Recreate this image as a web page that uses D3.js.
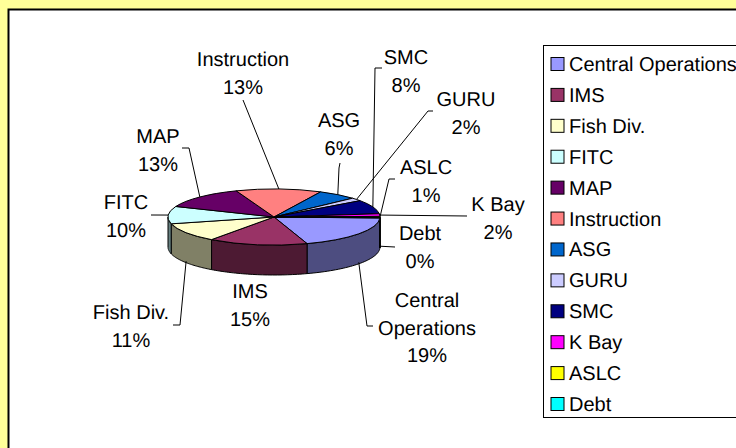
<!DOCTYPE html>
<html>
<head>
<meta charset="utf-8">
<script src="https://cdn.jsdelivr.net/npm/d3@7"></script>
<style>
  html, body { margin: 0; padding: 0; background: #ffff99; overflow: hidden; }
  text { font-family: "Liberation Sans", Arial, sans-serif; font-size: 20px; fill: #000; text-rendering: geometricPrecision; }
</style>
</head>
<body>
<div id="chart"></div>
<script>
// Chart data
var categories = ['Central Operations', 'IMS', 'Fish Div.', 'FITC', 'MAP', 'Instruction', 'ASG', 'GURU', 'SMC', 'K Bay', 'ASLC', 'Debt']
var shares = [19.3, 15, 11, 10, 13, 13, 6, 1.8, 8, 1.5, 0.6, 0.3]

// Slice colours, top face and shaded side
var topColors = ['#9999ff', '#993366', '#ffffcc', '#ccffff', '#660066', '#ff8080', '#0066cc', '#ccccff', '#000080', '#ff00ff', '#ffff00', '#00ffff']
var sideColors = ['#4d4d80', '#4d1a33', '#808066', '#668080', '#330033', '#804040', '#003366', '#666680', '#000040', '#800080', '#808000', '#008080']

// Label placement: text lines, centre x, first baseline, leader elbow points
var labelLines = [['Central', 'Operations'], ['IMS'], ['Fish Div.'], ['FITC'], ['MAP'], ['Instruction'], ['ASG'], ['GURU'], ['SMC'], ['K Bay'], ['ASLC'], ['Debt']]
var labelX = [427, 250, 131, 126, 158, 243, 339, 466, 406, 498, 426, 420]
var labelY = [307, 298, 319, 209, 143, 66, 127, 106, 64, 211, 174, 240]
var leaderPoints = [
  [[373, 326], [367, 326]],
  [],
  [[173, 325], [180, 325]],
  [[151, 215]],
  [[182, 148], [189, 148]],
  [[243, 100]],
  [[340, 163], [339, 168]],
  [[433, 111], [428, 111]],
  [[382, 68], [375, 68]],
  [[467, 216]],
  [[395, 179], [389, 179]],
  [[395, 247]]
]

var width = 736
var height = 448

// Pie geometry
var cx = 274
var cy = 217
var rx = 106
var ry = 28
var depth = 30
var startAngle = Math.PI / 2 + 2 * Math.PI / 180

var svg = d3.select('#chart')
  .append('svg')
  .attr('width', width)
  .attr('height', height)
  .style('display', 'block')

// Chart area
svg.append('rect')
  .attr('x', 8.5)
  .attr('y', 9.5)
  .attr('width', width + 20)
  .attr('height', height + 20)
  .attr('fill', '#fff')
  .attr('stroke', '#000')
  .attr('stroke-width', 2)

svg.append('line')
  .attr('x1', 9.5)
  .attr('x2', 9.5)
  .attr('y1', 11)
  .attr('y2', height)
  .attr('stroke', '#808080')

var total = d3.sum(shares)
var percent = d3.format('.0%')

var slices = d3.pie()
  .sort(null)
  .startAngle(startAngle)
  .endAngle(startAngle + 2 * Math.PI)(shares)

// d3 angles run clockwise from 12 o'clock
function rimPoint(a, drop) {
  return [cx + rx * Math.sin(a), cy - ry * Math.cos(a) + drop]
}

// Side wall of one slice, only the part that faces the viewer
function wallPath(d) {
  var from = d.startAngle
  var to = d.endAngle
  var parts = []
  ;[[Math.PI / 2, 3 * Math.PI / 2], [5 * Math.PI / 2, 7 * Math.PI / 2]].forEach(function (range) {
    var a0 = Math.max(from, range[0])
    var a1 = Math.min(to, range[1])
    if (a1 <= a0) return
    var angles = d3.range(0, 41).map(function (i) { return a0 + (a1 - a0) * i / 40 })
    var front = angles.map(function (a) { return rimPoint(a, 0) })
    var back = angles.slice().reverse().map(function (a) { return rimPoint(a, depth) })
    parts.push(d3.line()(front.concat(back)) + 'Z')
  })
  return parts.join('')
}

svg.append('g')
  .selectAll('path')
  .data(slices)
  .enter()
  .append('path')
  .attr('d', wallPath)
  .attr('fill', function (d, i) { return sideColors[i] })
  .attr('stroke', '#000')
  .attr('stroke-width', 1)

// Top face is a flat pie squashed into an ellipse
var arc = d3.arc()
  .innerRadius(0)
  .outerRadius(rx)

svg.append('g')
  .attr('transform', 'translate(' + cx + ',' + cy + ') scale(1,' + (ry / rx) + ')')
  .selectAll('path')
  .data(slices)
  .enter()
  .append('path')
  .attr('d', arc)
  .attr('fill', function (d, i) { return topColors[i] })
  .attr('stroke', '#000')
  .attr('stroke-width', 1)
  .attr('vector-effect', 'non-scaling-stroke')

// Leader lines start at the rim, at the middle of each slice
var leaderLine = d3.line()

svg.append('g')
  .selectAll('path')
  .data(slices)
  .enter()
  .append('path')
  .attr('d', function (d, i) {
    if (!leaderPoints[i].length) return null
    var mid = (d.startAngle + d.endAngle) / 2
    var facing = Math.cos(mid) < 0
    return leaderLine(leaderPoints[i].concat([rimPoint(mid, facing ? depth * 0.95 : 0)]))
  })
  .attr('fill', 'none')
  .attr('stroke', '#000')
  .attr('stroke-width', 1)

// Data labels
var labels = svg.append('g')
  .selectAll('text')
  .data(categories)
  .enter()
  .append('text')
  .attr('text-anchor', 'middle')
  .attr('x', function (d, i) { return labelX[i] })
  .attr('y', function (d, i) { return labelY[i] })

labels.each(function (d, i) {
  var lines = labelLines[i].concat([percent(shares[i] / total)])
  d3.select(this)
    .selectAll('tspan')
    .data(lines)
    .enter()
    .append('tspan')
    .attr('x', labelX[i])
    .attr('dy', function (t, j) { return j ? 27.5 : 0 })
    .text(function (t) { return t })
})

// Legend
var legendY = d3.scalePoint()
  .domain(categories)
  .range([64, 404])

svg.append('rect')
  .attr('x', 543.5)
  .attr('y', 45.5)
  .attr('width', width)
  .attr('height', 372)
  .attr('fill', '#fff')
  .attr('stroke', '#000')

var legend = svg.append('g')
  .selectAll('g')
  .data(categories)
  .enter()
  .append('g')
  .attr('transform', function (d) { return 'translate(0,' + legendY(d) + ')' })

legend.append('rect')
  .attr('x', 551)
  .attr('y', -6.5)
  .attr('width', 13)
  .attr('height', 13)
  .attr('fill', function (d, i) { return topColors[i] })
  .attr('stroke', '#000')

legend.append('text')
  .attr('x', 569)
  .attr('y', 7)
  .text(function (d) { return d })
</script>
</body>
</html>
